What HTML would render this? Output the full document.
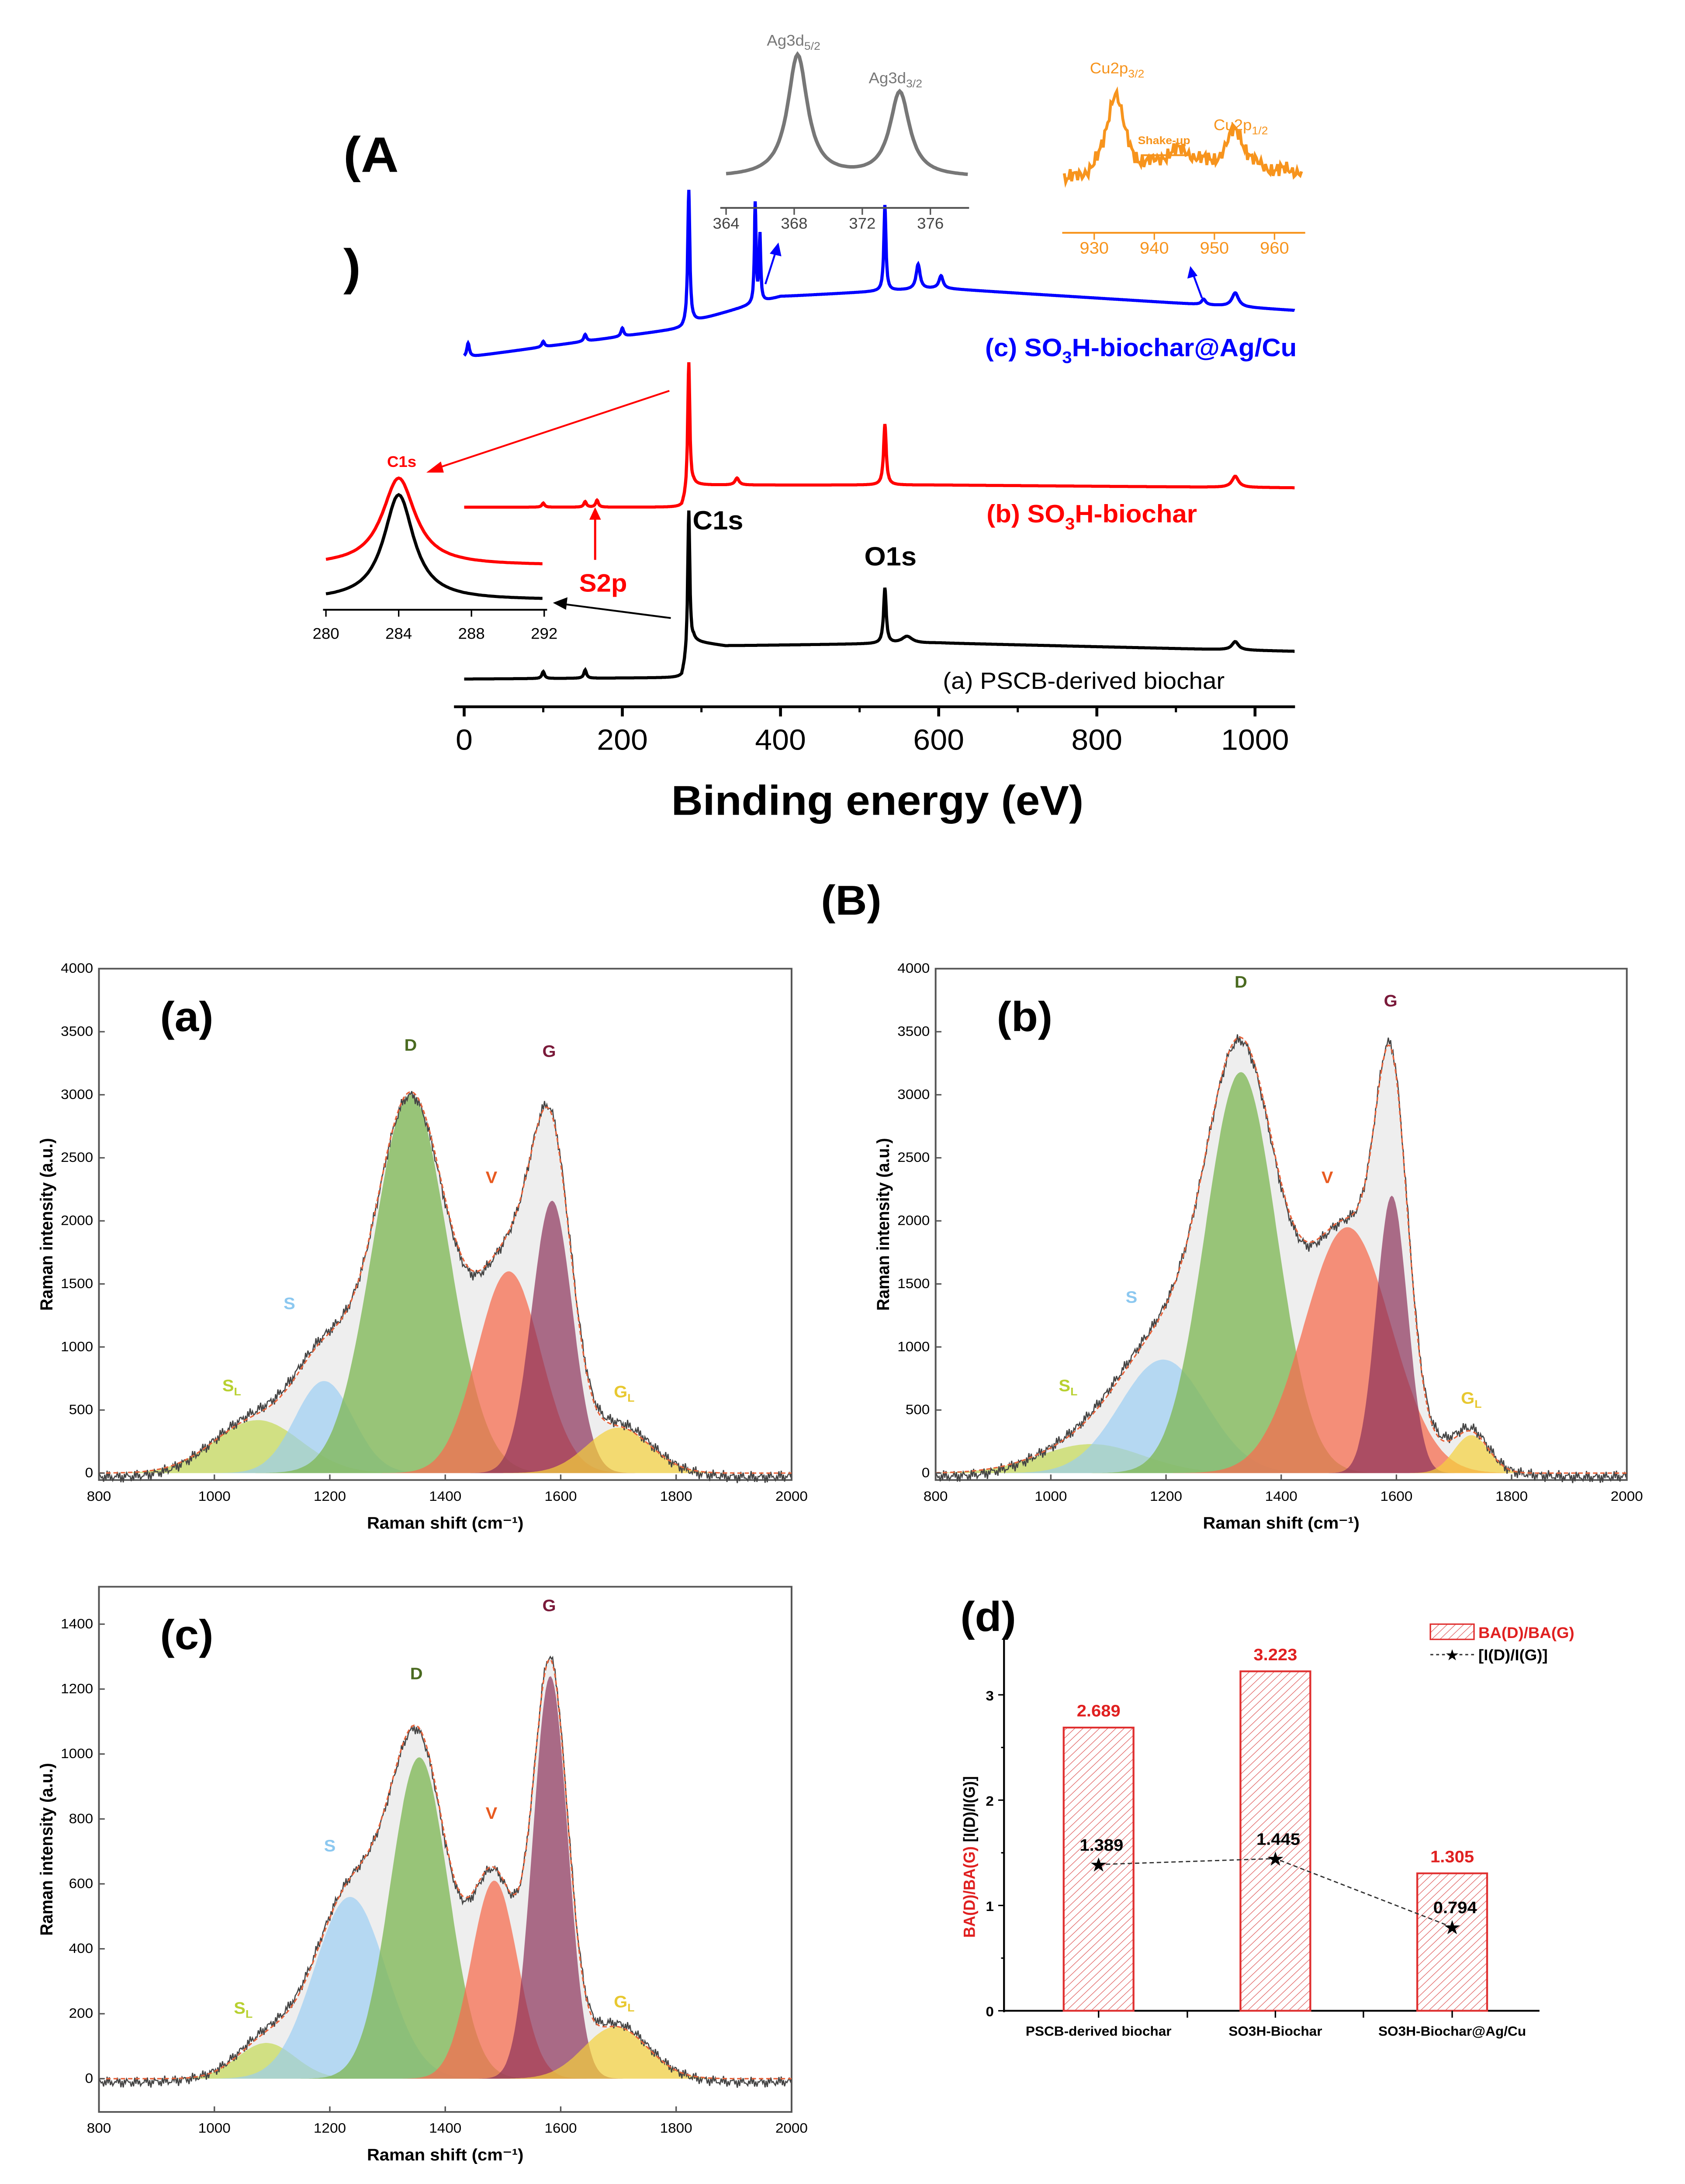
<!DOCTYPE html>
<html><head><meta charset="utf-8"><style>
html,body{margin:0;padding:0;background:#fff;width:3857px;height:5248px;overflow:hidden}
svg{display:block;position:absolute;left:0;top:0;width:100vw;height:100vh}
text{font-family:"Liberation Sans",Arial,sans-serif}
</style></head><body>
<svg id="fig" xmlns="http://www.w3.org/2000/svg" viewBox="0 0 1158 1576" preserveAspectRatio="none">
<defs>
<pattern id="hatch" patternUnits="userSpaceOnUse" width="4" height="4" patternTransform="rotate(45)">
<line x1="0" y1="0" x2="0" y2="4" stroke="#e06060" stroke-width="0.8"/>
</pattern>
</defs>
<g id="xps"></g>
<g id="raman"></g>
<g id="bar"></g>
</svg>
<script>
// ---------- XPS data ----------
const xpsBlackPeaks=[[284,105,1.6],[532,40,2],[100,5,2],[153,6,2],[975,6,5],[560,5,8]];
const xpsRedPeaks=[[284,95,1.6],[532,44,2],[100,3,2],[153,4,2],[168,5,2],[345,5,3],[975,8,5]];
const xpsBluePeaks=[[284,97,1.6],[368,72,1.2],[374,48,1.2],[532,62,1.6],[574,18,3],[603,9,3],[5,10,2],[100,4,2],[153,5,2],[200,6,2],[975,10,5],[935,4,3]];
const xpsBlackBase=[[0,490],[275,489],[290,463],[330,466],[600,464],[1050,470]];
const xpsRedBase=[[0,366],[275,366],[290,350],[600,350],[1050,352]];
const xpsBlueBase=[[0,258],[275,237],[290,232],[400,214],[600,208],[1050,224]];
const xpsTicks=[0,200,400,600,800,1000];
const agTicks=[364,368,372,376];
const agPeaks=[[368.2,88,0.7],[374.2,61,0.7]];
const cuTicks=[930,940,950,960];
const cuPeaks=[[933.5,62,1.8],[944,18,4],[953.5,30,2]];
const c1sTicks=[280,284,288,292];
const c1sRed=[[284,63,1.1]];
const c1sBlack=[[284,76,1.0]];

const NS="http://www.w3.org/2000/svg";
function mk(parent,tag,attrs,txt){const e=document.createElementNS(NS,tag);for(const k in attrs)e.setAttribute(k,attrs[k]);if(txt!==undefined)e.textContent=txt;parent.appendChild(e);return e;}
function lor(x,p){let s=0;for(const [c,h,w] of p){s+=h/(1+((x-c)/w)**2);}return s;}
function interp(x,b){for(let i=0;i<b.length-1;i++){if(x>=b[i][0]&&x<=b[i+1][0]){const t=(x-b[i][0])/(b[i+1][0]-b[i][0]);return b[i][1]+t*(b[i+1][1]-b[i][1]);}}return b[b.length-1][1];}

const X=document.getElementById('xps');
const ex=e=>319+e*0.5435;
function xpsLine(base,peaks,col,name){let d="";for(let e=0;e<=1050;e+=0.5){const y=interp(e,base)-lor(e,peaks);d+=(e?"L":"M")+ex(e).toFixed(1)+","+y.toFixed(1);}
 const p=mk(X,'path',{d:d,fill:'none',stroke:col,'stroke-width':2.2});
 
 }
xpsLine(xpsBlackBase,xpsBlackPeaks,'#000','series-pscb-biochar');
xpsLine(xpsRedBase,xpsRedPeaks,'#f00','series-so3h-biochar');
xpsLine(xpsBlueBase,xpsBluePeaks,'#00f','series-so3h-biochar-agcu');
mk(X,'line',{x1:312,y1:510,x2:890,y2:510,stroke:'#000','stroke-width':2,});
for(const t of xpsTicks){mk(X,'line',{x1:ex(t),y1:510,x2:ex(t),y2:517,stroke:'#000','stroke-width':2});
 const tx=mk(X,'text',{x:ex(t),y:541,'font-size':21,'text-anchor':'middle'},t);
 
 }
for(let t=100;t<=1000;t+=200)mk(X,'line',{x1:ex(t),y1:510,x2:ex(t),y2:514,stroke:'#000','stroke-width':1.5});
mk(X,'text',{x:603,y:588,'font-size':30,'font-weight':'bold','text-anchor':'middle',},'Binding energy (eV)');
mk(X,'text',{x:236,y:124,'font-size':36,'font-weight':'bold','font-family':'Liberation Serif',},'(A');
mk(X,'text',{x:236,y:205,'font-size':36,'font-weight':'bold','font-family':'Liberation Serif'},')');
mk(X,'text',{x:476,y:382,'font-size':19,'font-weight':'bold',},'C1s');
mk(X,'text',{x:594,y:408,'font-size':19,'font-weight':'bold',},'O1s');
mk(X,'text',{x:648,y:497,'font-size':17,},'(a) PSCB-derived biochar');
let t=mk(X,'text',{x:678,y:377,'font-size':18,'font-weight':'bold',fill:'#f00',},'(b) SO');
mk(t,'tspan',{'font-size':12,dy:5},'3');mk(t,'tspan',{dy:-5},'H-biochar');
t=mk(X,'text',{x:677,y:257,'font-size':18,'font-weight':'bold',fill:'#00f',},'(c) SO');
mk(t,'tspan',{'font-size':12,dy:5},'3');mk(t,'tspan',{dy:-5},'H-biochar@Ag/Cu');
mk(X,'text',{x:398,y:427,'font-size':18,'font-weight':'bold',fill:'#f00',},'S2p');
mk(X,'line',{x1:409,y1:404,x2:409,y2:372,stroke:'#f00','stroke-width':1.5});
mk(X,'path',{d:'M405,375 L409,366 L413,375Z',fill:'#f00'});
mk(X,'line',{x1:460,y1:282,x2:300,y2:338,stroke:'#f00','stroke-width':1.3});
mk(X,'path',{d:'M293,341 L303,333 L305,341Z',fill:'#f00'});
mk(X,'line',{x1:461,y1:446,x2:388,y2:436,stroke:'#000','stroke-width':1.3});
mk(X,'path',{d:'M380,435 L390,431 L389,440Z',fill:'#000'});
mk(X,'line',{x1:526,y1:205,x2:533,y2:182,stroke:'#00f','stroke-width':1.3});
mk(X,'path',{d:'M535,175 L529,183 L537,185Z',fill:'#00f'});
mk(X,'line',{x1:826,y1:215,x2:820,y2:198,stroke:'#00f','stroke-width':1.3});
mk(X,'path',{d:'M818,192 L816,201 L823,199Z',fill:'#00f'});
const ag=v=>499+(v-364)*11.7;
let d="";for(let e=364;e<=378.3;e+=0.1){d+=(d?"L":"M")+ag(e).toFixed(1)+","+(128-lor(e,agPeaks)).toFixed(1);}
mk(X,'path',{d:d,fill:'none',stroke:'#777','stroke-width':2.5,});
mk(X,'line',{x1:495,y1:150,x2:666,y2:150,stroke:'#555','stroke-width':1.3});
for(const v of agTicks){mk(X,'line',{x1:ag(v),y1:150,x2:ag(v),y2:155,stroke:'#555'});mk(X,'text',{x:ag(v),y:165,'font-size':11,'text-anchor':'middle',fill:'#444'},v);}
t=mk(X,'text',{x:527,y:33,'font-size':11,fill:'#777'},'Ag3d');mk(t,'tspan',{'font-size':8,dy:3},'5/2');
t=mk(X,'text',{x:597,y:60,'font-size':11,fill:'#777'},'Ag3d');mk(t,'tspan',{'font-size':8,dy:3},'3/2');
const cu=v=>752+(v-930)*4.13;
d="";for(let e=925;e<=964.5;e+=0.25){const n=3*Math.sin(e*7.3)+2.5*Math.sin(e*13.1+1)+2*Math.sin(e*23.7);
 d+=(d?"L":"M")+cu(e).toFixed(1)+","+(133+ (e-925)*-0.2 -lor(e,cuPeaks)+n).toFixed(1);}
mk(X,'path',{d:d,fill:'none',stroke:'#f7941d','stroke-width':2,});
mk(X,'line',{x1:730,y1:168,x2:897,y2:168,stroke:'#f7941d','stroke-width':1.3});
for(const v of cuTicks){mk(X,'line',{x1:cu(v),y1:168,x2:cu(v),y2:173,stroke:'#f7941d'});mk(X,'text',{x:cu(v),y:183,'font-size':12,'text-anchor':'middle',fill:'#f7941d'},v);}
t=mk(X,'text',{x:749,y:53,'font-size':11,fill:'#f7941d'},'Cu2p');mk(t,'tspan',{'font-size':8,dy:3},'3/2');
t=mk(X,'text',{x:834,y:94,'font-size':11,fill:'#f7941d'},'Cu2p');mk(t,'tspan',{'font-size':8,dy:3},'1/2');
mk(X,'text',{x:782,y:104,'font-size':8,'font-weight':'bold',fill:'#f7941d'},'Shake-up');
mk(X,'line',{x1:784,y1:112,x2:818,y2:112,stroke:'#f7941d','stroke-width':1.3});
const cs=v=>224+(v-280)*12.5;
d="";let d2="";for(let e=280;e<=292;e+=0.1){d+=(d?"L":"M")+cs(e).toFixed(1)+","+(408-lor(e,c1sRed)).toFixed(1);d2+=(d2?"L":"M")+cs(e).toFixed(1)+","+(433-lor(e,c1sBlack)).toFixed(1);}
mk(X,'path',{d:d,fill:'none',stroke:'#f00','stroke-width':2.2,});
mk(X,'path',{d:d2,fill:'none',stroke:'#000','stroke-width':2.2,});
mk(X,'line',{x1:222,y1:440,x2:376,y2:440,stroke:'#000','stroke-width':1.3});
for(const v of c1sTicks){mk(X,'line',{x1:cs(v),y1:440,x2:cs(v),y2:445,stroke:'#000'});mk(X,'text',{x:cs(v),y:461,'font-size':11,'text-anchor':'middle'},v);}
mk(X,'text',{x:266,y:337,'font-size':11,'font-weight':'bold',fill:'#f00'},'C1s');
mk(X,'text',{x:585,y:660,'font-size':30,'font-weight':'bold','text-anchor':'middle',},'(B)');

// ---------- Raman data ----------
const ramanLabels=['SL','S','D','V','G','GL'];
const ramanColors=['rgba(190,215,60,0.6)','rgba(150,205,245,0.65)','rgba(130,185,90,0.8)','rgba(245,110,80,0.75)','rgba(140,50,90,0.7)','rgba(245,210,60,0.7)'];
const ramanA_centers=[1075,1190,1340,1510,1585,1700];
const ramanA_heights=[420,730,3000,1600,2160,360];
const ramanA_widths=[75,50,65,55,35,55];
const ramanB_centers=[1070,1195,1330,1515,1592,1730];
const ramanB_heights=[230,900,3180,1950,2200,300];
const ramanB_widths=[90,75,62,75,27,30];
const ramanC_centers=[1090,1235,1355,1485,1582,1695];
const ramanC_heights=[110,560,990,610,1240,160];
const ramanC_widths=[50,62,50,40,30,55];
const ramanXTicks=[800,1000,1200,1400,1600,1800,2000];
const ramanYTicksAB=[0,500,1000,1500,2000,2500,3000,3500,4000];
const ramanYTicksC=[0,200,400,600,800,1000,1200,1400];
const R=document.getElementById('raman');
function g(x,c,h,w){return h*Math.exp(-0.5*((x-c)/w)**2);}
function raman(opt){
 const {x0,x1,y0,y1,ymax,top,bottom,cen,hei,wid,yt,name,label,labpos}=opt;
 const grp=mk(R,'g',{});
 const sx=v=>x0+(v-800)/1200*(x1-x0);const sy=v=>y0-v/ymax*(y0-y1);
 mk(grp,'rect',{x:x0,y:top,width:x1-x0,height:bottom-top,fill:'none',stroke:'#555','stroke-width':1.2});
 let env="M"+sx(800)+","+sy(0);let ln="",ln2="";
 for(let v=800;v<=2000;v+=2){let s=0;for(let i=0;i<6;i++)s+=g(v,cen[i],hei[i],wid[i]);
  env+="L"+sx(v).toFixed(1)+","+sy(s).toFixed(1);
  const nz=ymax*0.008*(Math.sin(v*1.7)+Math.sin(v*3.13+2)+0.6*Math.sin(v*5.9));
  ln+=(ln?"L":"M")+sx(v).toFixed(1)+","+sy(s+nz).toFixed(1);ln2+=(ln2?"L":"M")+sx(v).toFixed(1)+","+sy(s).toFixed(1);}
 env+="L"+sx(2000)+","+sy(0)+"Z";
 mk(grp,'path',{d:env,fill:'#eeeeee'});
 for(let i=0;i<6;i++){let d="M"+sx(800)+","+sy(0);for(let v=800;v<=2000;v+=3)d+="L"+sx(v).toFixed(1)+","+sy(g(v,cen[i],hei[i],wid[i])).toFixed(1);d+="L"+sx(2000)+","+sy(0)+"Z";
  const p=mk(grp,'path',{d:d,fill:ramanColors[i]});
  
  }
 mk(grp,'path',{d:ln,fill:'none',stroke:'#444','stroke-width':0.8});
 mk(grp,'path',{d:ln2,fill:'none',stroke:'#e8623a','stroke-width':1,'stroke-dasharray':'3,2'});
 for(const v of ramanXTicks){mk(grp,'line',{x1:sx(v),y1:bottom,x2:sx(v),y2:bottom-4,stroke:'#555'});mk(grp,'text',{x:sx(v),y:bottom+15,'font-size':10,'font-family':'Liberation Serif','text-anchor':'middle'},v);}
 for(const v of yt){mk(grp,'line',{x1:x0,y1:sy(v),x2:x0+4,y2:sy(v),stroke:'#555'});mk(grp,'text',{x:x0-4,y:sy(v)+3,'font-size':10,'font-family':'Liberation Serif','text-anchor':'end'},v);}
 mk(grp,'text',{x:(x0+x1)/2,y:bottom+35,'font-size':12,'font-weight':'bold','text-anchor':'middle'},'Raman shift (cm⁻¹)');
 mk(grp,'text',{x:0,y:0,'font-size':12,'font-weight':'bold','text-anchor':'middle',transform:`translate(${x0-32},${(top+bottom)/2}) rotate(-90)`},'Raman intensity (a.u.)');
 mk(grp,'text',{x:x0+42,y:top+45,'font-size':30,'font-weight':'bold'},label);
 const lc=['#b8d030','#8cc8f0','#4a6a20','#e85a20','#7a1a3a','#e8c830'];
 for(let i=0;i<6;i++){const [px,py]=labpos[i];const tt=mk(grp,'text',{x:sx(px),y:sy(py),'font-size':12,'font-weight':'bold',fill:lc[i],'text-anchor':'middle'},ramanLabels[i][0]);
  if(ramanLabels[i].length>1)mk(tt,'tspan',{'font-size':8,dy:3},'L');}
}
raman({x0:68,x1:544,y0:1063,y1:699,ymax:4000,top:699,bottom:1068,cen:ramanA_centers,hei:ramanA_heights,wid:ramanA_widths,yt:ramanYTicksAB,name:'raman-a',label:'(a)',
 labpos:[[1030,650],[1130,1300],[1340,3350],[1480,2300],[1580,3300],[1710,600]]});
raman({x0:643,x1:1118,y0:1063,y1:699,ymax:4000,top:699,bottom:1068,cen:ramanB_centers,hei:ramanB_heights,wid:ramanB_widths,yt:ramanYTicksAB,name:'raman-b',label:'(b)',
 labpos:[[1030,650],[1140,1350],[1330,3850],[1480,2300],[1590,3700],[1730,550]]});
raman({x0:68,x1:544,y0:1500,y1:1172,ymax:1400,top:1145,bottom:1524,cen:ramanC_centers,hei:ramanC_heights,wid:ramanC_widths,yt:ramanYTicksC,name:'raman-c',label:'(c)',
 labpos:[[1050,200],[1200,700],[1350,1230],[1480,800],[1580,1440],[1710,220]]});

// ---------- Bar chart (d) ----------
const barCats=['PSCB-derived biochar','SO3H-Biochar','SO3H-Biochar@Ag/Cu'];
const barBA=[2.689,3.223,1.305];
const barID=[1.389,1.445,0.794];
const barYTicks=[0,1,2,3];
const B=document.getElementById('bar');
const bx=i=>755+i*121.5;const by=v=>1451-v*76;
mk(B,'line',{x1:690,y1:1183,x2:690,y2:1452,stroke:'#000','stroke-width':1.3});
mk(B,'line',{x1:690,y1:1451,x2:1058,y2:1451,stroke:'#000','stroke-width':1.3});
for(const v of barYTicks){mk(B,'line',{x1:686,y1:by(v),x2:690,y2:by(v),stroke:'#000'});mk(B,'text',{x:683,y:by(v)+4,'font-size':10,'font-weight':'bold','text-anchor':'end'},v);}
for(let v=0.5;v<3.5;v+=1)mk(B,'line',{x1:688,y1:by(v),x2:690,y2:by(v),stroke:'#000'});
for(let i=0;i<3;i++){
 const r=mk(B,'rect',{x:bx(i)-24,y:by(barBA[i]),width:48,height:by(0)-by(barBA[i]),fill:'url(#hatch)',stroke:'#e03030','stroke-width':1.3});
 
 
 mk(B,'text',{x:bx(i),y:by(barBA[i])-8,'font-size':12,'font-weight':'bold',fill:'#e02020','text-anchor':'middle'},barBA[i].toFixed(3));
 mk(B,'line',{x1:bx(i),y1:1451,x2:bx(i),y2:1456,stroke:'#000'});
 mk(B,'text',{x:bx(i),y:1469,'font-size':9.5,'font-weight':'bold','text-anchor':'middle'},barCats[i]);
 mk(B,'text',{x:bx(i)+2,y:by(barID[i])-10,'font-size':12,'font-weight':'bold','text-anchor':'middle'},barID[i].toFixed(3));
}
mk(B,'line',{x1:816,y1:1451,x2:816,y2:1456,stroke:'#000'});mk(B,'line',{x1:937,y1:1451,x2:937,y2:1456,stroke:'#000'});
let pl="";for(let i=0;i<3;i++)pl+=(i?"L":"M")+bx(i)+","+by(barID[i]);
mk(B,'path',{d:pl,fill:'none',stroke:'#333','stroke-dasharray':'3,2','stroke-width':0.9,});
for(let i=0;i<3;i++){const s=mk(B,'text',{x:bx(i),y:by(barID[i])+5,'font-size':14,'text-anchor':'middle'},'★');
 
 }
mk(B,'text',{x:0,y:0,'font-size':11,'font-weight':'bold','text-anchor':'middle',transform:'translate(670,1340) rotate(-90)'}).innerHTML='<tspan fill="#e02020">BA(D)/BA(G)</tspan> [I(D)/I(G)]';
mk(B,'text',{x:660,y:1177,'font-size':30,'font-weight':'bold',},'(d)');
mk(B,'rect',{x:983,y:1172,width:30,height:11,fill:'url(#hatch)',stroke:'#e03030',});
mk(B,'text',{x:1016,y:1182,'font-size':11,'font-weight':'bold',fill:'#e02020'},'BA(D)/BA(G)');
mk(B,'line',{x1:983,y1:1194,x2:1013,y2:1194,stroke:'#333','stroke-dasharray':'2,2'});
mk(B,'text',{x:998,y:1198,'font-size':11,'text-anchor':'middle'},'★');
mk(B,'text',{x:1016,y:1198,'font-size':11,'font-weight':'bold',},'[I(D)/I(G)]');
</script>
</body></html>
